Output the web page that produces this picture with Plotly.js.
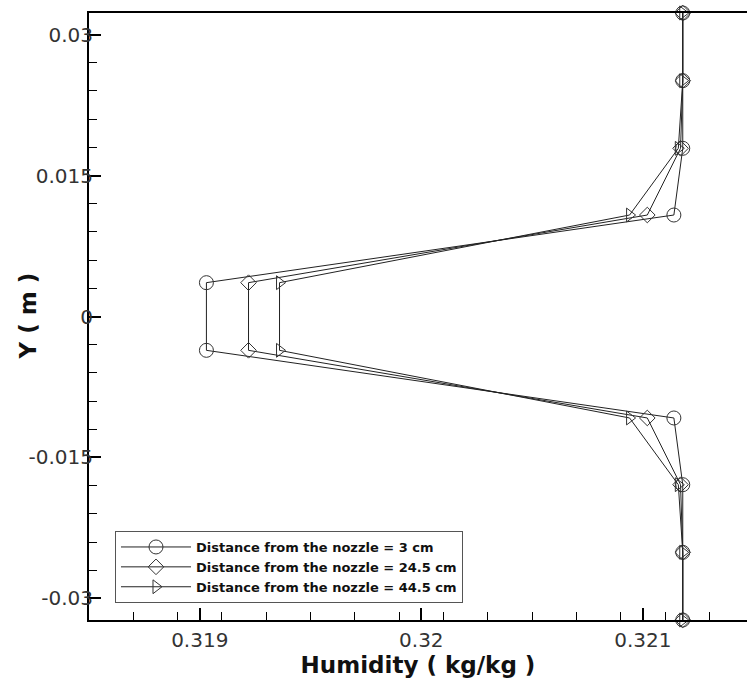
<!DOCTYPE html>
<html>
<head>
<meta charset="utf-8">
<script src="https://cdn.plot.ly/plotly-3.0.1.min.js"></script>
<style>
html,body{margin:0;padding:0;background:#fff;overflow:hidden;}
#chart{width:747px;height:681px;}
</style>
</head>
<body>
<div id="chart"></div>
<script>
// Y positions (m)
var yPos = [0.0323, 0.0251, 0.0179, 0.0108, 0.0036, -0.0036, -0.0108, -0.0179, -0.0251, -0.0323];
// Humidity (kg/kg) for each distance from the nozzle
var hum3cm  = [0.32118, 0.32118, 0.32118, 0.32114, 0.31903, 0.31903, 0.32114, 0.32118, 0.32118, 0.32118];
var hum245cm = [0.32118, 0.32118, 0.32117, 0.32102, 0.31922, 0.31922, 0.32102, 0.32117, 0.32118, 0.32118];
var hum445cm = [0.32118, 0.32118, 0.32116, 0.32094, 0.31936, 0.31936, 0.32094, 0.32116, 0.32118, 0.32118];
var seriesNames = ['Distance from the nozzle = 3 cm', 'Distance from the nozzle = 24.5 cm', 'Distance from the nozzle = 44.5 cm'];
var yTickVals = [0.03, 0.015, 0, -0.015, -0.03];
var yTickText = ['0.03', '0.015', '0', '-0.015', '-0.03'];
var xTickVals = [0.319, 0.32, 0.321];
var xTickText = ['0.319', '0.32', '0.321'];
var xTitle = 'Humidity ( kg/kg )';
var yTitle = 'Y ( m )';

var symbols = ['circle-open', 'diamond-open', 'triangle-right-open'];
var sizes = [14, 12, 12];
var seriesX = [hum3cm, hum245cm, hum445cm];

var traces = seriesX.map(function (xs, i) {
  return {
    x: xs, y: yPos, type: 'scatter', mode: 'lines+markers',
    name: seriesNames[i], cliponaxis: false,
    line: {color: '#222', width: 1},
    marker: {symbol: symbols[i], size: sizes[i], color: '#333', line: {width: 1, color: '#333'}}
  };
});

var FONT = 'DejaVu Sans, Arial, sans-serif';
var layout = {
  width: 747, height: 681,
  margin: {l: 89, r: 0, t: 13, b: 61},
  paper_bgcolor: '#fff', plot_bgcolor: '#fff',
  showlegend: true,
  font: {family: FONT, color: '#222'},
  xaxis: {
    range: [0.3185, 0.32147],
    tickmode: 'array', tickvals: xTickVals, ticktext: xTickText,
    ticks: 'inside', ticklen: 12, tickwidth: 2, tickcolor: '#000',
    minor: {ticks: 'inside', ticklen: 8, tickwidth: 1, tickcolor: '#000', dtick: 0.0002, tick0: 0.3185, showgrid: false},
    showline: true, linewidth: 2, linecolor: '#000', mirror: true,
    showgrid: false, zeroline: false,
    ticklabelstandoff: 1,
    tickfont: {family: FONT, size: 20, color: '#333'},
    title: {text: xTitle, standoff: 0, font: {family: FONT, size: 23, weight: 'bold', color: '#111'}}
  },
  yaxis: {
    range: [-0.0323, 0.0323],
    tickmode: 'array', tickvals: yTickVals, ticktext: yTickText,
    ticks: 'inside', ticklen: 12, tickwidth: 2, tickcolor: '#000',
    minor: {ticks: 'inside', ticklen: 8, tickwidth: 1, tickcolor: '#000', dtick: 0.003, tick0: 0, showgrid: false},
    showline: true, linewidth: 2, linecolor: '#000', mirror: false,
    showgrid: false, zeroline: false,
    ticklabelstandoff: -10,
    tickfont: {family: FONT, size: 20, color: '#333'}
  },
  annotations: [{
    text: yTitle, xref: 'paper', yref: 'paper',
    x: (27 - 89) / 658, y: 0.5, xanchor: 'center', yanchor: 'middle',
    textangle: -90, showarrow: false,
    font: {family: FONT, size: 23, weight: 'bold', color: '#111'}
  }],
  legend: {
    x: 0.0395, y: 0.028, xanchor: 'left', yanchor: 'bottom',
    bgcolor: '#fff', bordercolor: '#555', borderwidth: 1,
    itemwidth: 70, tracegroupgap: 0,
    font: {family: FONT, size: 13, weight: 'bold', color: '#111'}
  }
};

Plotly.newPlot('chart', traces, layout, {displayModeBar: false, staticPlot: true});
</script>
</body>
</html>
